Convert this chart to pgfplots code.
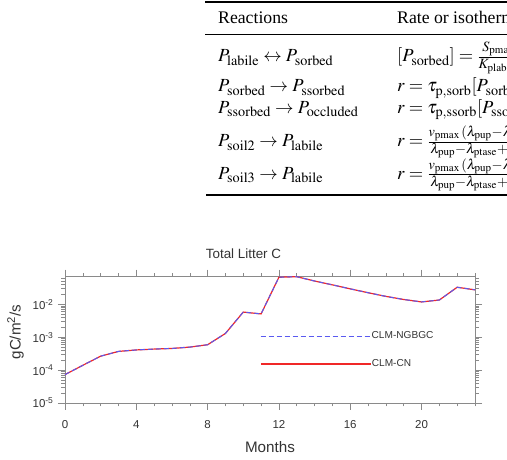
\documentclass[border=0pt]{standalone}
\usepackage{mathptmx}
\usepackage{pgfplots}
\pgfplotsset{compat=1.18}
\usepackage{fontspec}
\setmainfont{Liberation Serif}
\newfontfamily\chartfont{Liberation Sans}
\DeclareMathSizes{18.5}{18.5}{14.2}{11}
\definecolor{axgray}{RGB}{138,138,138}
\definecolor{txtgray}{RGB}{51,51,51}
\definecolor{ngbgcblue}{RGB}{90,90,240}
\definecolor{cnred}{RGB}{240,40,40}
\pgfplotstableread{
x y
0 7.3e-5
1 1.4e-4
2 2.65e-4
3 3.7e-4
4 4.1e-4
5 4.35e-4
6 4.55e-4
7 5.0e-4
8 5.9e-4
9 1.3e-3
10 5.8e-3
11 5.1e-3
12 0.0665
13 0.069
14 0.051
15 0.039
16 0.0295
17 0.0225
18 0.0174
19 0.014
20 0.0118
21 0.0135
22 0.033
23 0.0275
}\ngbgc
\pgfplotstableread{
x y
0 7.3e-5
1 1.4e-4
2 2.65e-4
3 3.7e-4
4 4.1e-4
5 4.35e-4
6 4.55e-4
7 5.0e-4
8 5.9e-4
9 1.3e-3
10 5.8e-3
11 5.1e-3
12 0.0665
13 0.069
14 0.051
15 0.039
16 0.0295
17 0.0225
18 0.0174
19 0.014
20 0.0118
21 0.0135
22 0.033
23 0.0275
}\clmcn
\begin{document}
\begin{tikzpicture}[x=1pt,y=1pt]
\useasboundingbox (0,0) rectangle (507,460);
% ---- table (cropped) ----
\begin{scope}
\clip (0,0) rectangle (507,460);
\draw[line width=1.1pt] (205,458) -- (507,458);
\draw[line width=0.7pt] (205,426) -- (507,426);
\draw[line width=1.1pt] (206,265) -- (507,265);
\begin{scope}[every node/.style={inner sep=0pt}]
\node[anchor=base west, font=\fontsize{17.7}{21}\selectfont] at (218,436.7) {Reactions};
\node[anchor=base west, font=\fontsize{17.7}{21}\selectfont] at (397,436.7) {Rate or isotherm};
\begin{scope}[every node/.append style={font=\fontsize{18.5}{21}\selectfont}]
\node[anchor=base west] at (218,398.3) {$P_{\mathrm{labile}} \leftrightarrow P_{\mathrm{sorbed}}$};
\node[anchor=base west] at (397,398.3) {$[P_{\mathrm{sorbed}}] = \frac{S_{\mathrm{pmax}}[P_{\mathrm{labile}}]}{K_{\mathrm{plab}}+[P_{\mathrm{labile}}]}$};
\node[anchor=base west] at (218,368.3) {$P_{\mathrm{sorbed}} \rightarrow P_{\mathrm{ssorbed}}$};
\node[anchor=base west] at (397,368.3) {$r = \tau_{\mathrm{p,sorb}}[P_{\mathrm{sorbed}}]$};
\node[anchor=base west] at (218,346.7) {$P_{\mathrm{ssorbed}} \rightarrow P_{\mathrm{occluded}}$};
\node[anchor=base west] at (397,346.7) {$r = \tau_{\mathrm{p,ssorb}}[P_{\mathrm{ssorbed}}]$};
\node[anchor=base west] at (218,313.3) {$P_{\mathrm{soil2}} \rightarrow P_{\mathrm{labile}}$};
\node[anchor=base west] at (397,313.3) {$r = \frac{v_{\mathrm{pmax}}\,(\lambda_{\mathrm{pup}}-\lambda_{\mathrm{ptase}})}{\lambda_{\mathrm{pup}}-\lambda_{\mathrm{ptase}}+k_{\mathrm{ptase}}}$};
\node[anchor=base west] at (218,280.5) {$P_{\mathrm{soil3}} \rightarrow P_{\mathrm{labile}}$};
\node[anchor=base west] at (397,280.5) {$r = \frac{v_{\mathrm{pmax}}\,(\lambda_{\mathrm{pup}}-\lambda_{\mathrm{ptase}})}{\lambda_{\mathrm{pup}}-\lambda_{\mathrm{ptase}}+k_{\mathrm{ptase}}}$};
\end{scope}
\end{scope}
\end{scope}
% ---- chart ----
\begin{axis}[
  at={(65pt,57pt)}, anchor=south west,
  scale only axis, width=410pt, height=126.3pt,
  xmin=0, xmax=23,
  ymode=log, ymin=1e-5, ymax=0.069,
  xtick={0,4,8,12,16,20},
  xticklabels={0,4,8,12,16,20},
  minor xtick={1,2,3,5,6,7,9,10,11,13,14,15,17,18,19,21,22,23},
  ytick={1e-5,1e-4,1e-3,1e-2},
  yticklabels={10\textsuperscript{-5},10\textsuperscript{-4},10\textsuperscript{-3},10\textsuperscript{-2}},
  minor ytick={2e-5,3e-5,4e-5,5e-5,6e-5,7e-5,8e-5,9e-5,2e-4,3e-4,4e-4,5e-4,6e-4,7e-4,8e-4,9e-4,2e-3,3e-3,4e-3,5e-3,6e-3,7e-3,8e-3,9e-3,2e-2,3e-2,4e-2,5e-2,6e-2},
  tick align=outside,
  major tick length=7pt, minor tick length=3.5pt,
  axis line style={draw=axgray, line width=0.8pt},
  every tick/.style={draw=axgray, line width=0.7pt},
  every minor tick/.style={draw=axgray, line width=0.5pt},
  tick label style={font=\chartfont\fontsize{11.5}{13}\selectfont, text=txtgray},
  xticklabel style={yshift=-7pt},
  yticklabel style={xshift=-1pt},
  legend style={at={(0.4756,0.530)}, anchor=west, draw=none, fill=none, inner sep=0pt,
    font=\chartfont\fontsize{10.1}{12}\selectfont,
    nodes={inner sep=0.5pt, text=txtgray}},
  legend cell align=left,
  clip=false,
]
\addplot[draw=cnred, line width=1.2pt, forget plot] table[x=x,y=y] {\clmcn};
\addplot[draw=ngbgcblue, line width=1pt, dash pattern=on 5pt off 3pt, forget plot] table[x=x,y=y] {\ngbgc};
\addlegendimage{legend image code/.code={\draw[draw=ngbgcblue, line width=1pt, dash pattern=on 5pt off 3pt] (0pt,0pt) -- (110pt,0pt);}}
\addlegendentry{CLM-NGBGC}
\end{axis}
\begin{axis}[
  at={(65pt,57pt)}, anchor=south west,
  scale only axis, width=410pt, height=126.3pt,
  xmin=0, xmax=23, ymin=0, ymax=1,
  hide axis,
  legend style={at={(0.4756,0.309)}, anchor=west, draw=none, fill=none, inner sep=0pt,
    font=\chartfont\fontsize{10.1}{12}\selectfont,
    nodes={inner sep=0.5pt, text=txtgray}},
  legend cell align=left,
  clip=false,
]
\addlegendimage{legend image code/.code={\draw[draw=cnred, line width=1.2pt] (0pt,0pt) -- (110pt,0pt);}}
\addlegendentry{CLM-CN}
\end{axis}
\node[anchor=base, font=\chartfont\fontsize{13.4}{15}\selectfont, text=txtgray, inner sep=0pt] at (243.5,201.7) {Total Litter C};
\node[anchor=base, font=\chartfont\fontsize{15.2}{17}\selectfont, text=txtgray, inner sep=0pt] at (270,7.3) {Months};
\node[rotate=90, anchor=center, font=\chartfont\fontsize{15.2}{17}\selectfont, text=txtgray, inner sep=0pt] at (15.5,128) {gC/m\textsuperscript{2}/s};
\end{tikzpicture}
\end{document}
